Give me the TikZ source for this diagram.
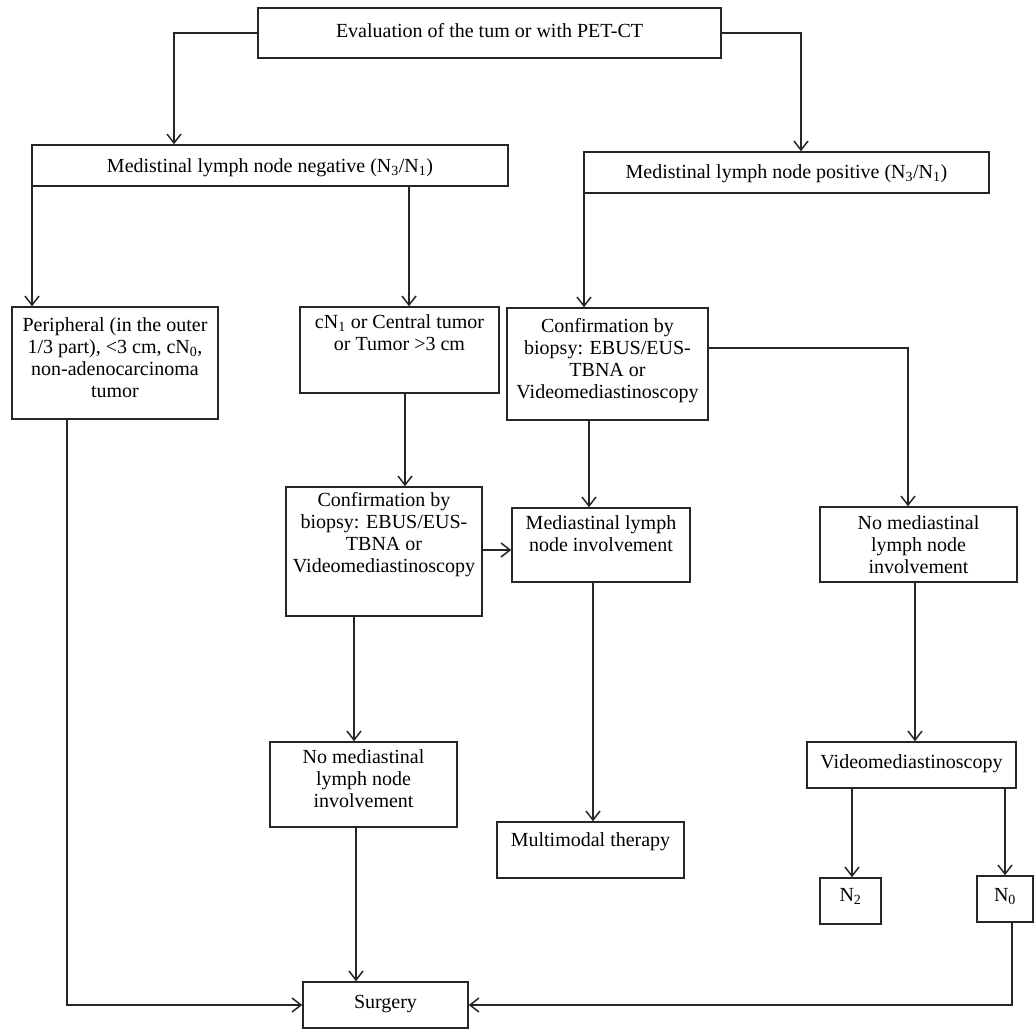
\documentclass[tikz,border=0pt]{standalone}
\usepackage{fontspec}
\setmainfont{Liberation Serif}
\usetikzlibrary{arrows.meta}
% width, height, top gap, lines
\newcommand\boxbody[4]{\parbox[c][#2pt][t]{#1pt}{\centering\vspace*{#3pt}\strut #4}}
\begin{document}
\begin{tikzpicture}[x=1pt,y=-1pt,
  flowbox/.style={draw=black!85, line width=1.5pt, inner sep=0pt, fill=white,
    font=\fontsize{20}{22}\selectfont},
  link/.style={draw=black!85, line width=1.5pt,
    -{Straight Barb[length=9pt,width=14pt,line width=1.5pt]}}]
\fill[white] (0,0) rectangle (1034,1030);

% boxes
\node[flowbox] (eval) at (489.5,33) {\boxbody{463}{50}{14}{Evaluation of the tum or with PET-CT}};
\node[flowbox] (neg) at (270,165.5) {\boxbody{476}{41}{12}{Medistinal lymph node negative (N\textsubscript{3}/N\textsubscript{1})}};
\node[flowbox] (pos) at (786.5,172.5) {\boxbody{405}{41}{11}{Medistinal lymph node positive (N\textsubscript{3}/N\textsubscript{1})}};
\node[flowbox] (peri) at (115,363) {\boxbody{206}{112}{9}{Peripheral (in the outer\\1/3 part), <3 cm, cN\textsubscript{0},\\non-adenocarcinoma\\tumor}};
\node[flowbox] (cn) at (399.5,350) {\boxbody{199}{86}{6}{cN\textsubscript{1} or Central tumor\\or Tumor >3 cm}};
\node[flowbox] (confR) at (607.5,364) {\boxbody{201}{112}{9}{Confirmation by\\biopsy: EBUS/EUS-\\TBNA or\\Videomediastinoscopy}};
\node[flowbox] (confL) at (384,551.5) {\boxbody{196}{129}{4}{Confirmation by\\biopsy: EBUS/EUS-\\TBNA or\\Videomediastinoscopy}};
\node[flowbox] (medinv) at (601,545) {\boxbody{178}{74}{6}{Mediastinal lymph\\node involvement}};
\node[flowbox] (nomedR) at (918.5,544.5) {\boxbody{197}{75}{7}{No mediastinal\\lymph node\\involvement}};
\node[flowbox] (video) at (911.5,765) {\boxbody{209}{46}{11}{Videomediastinoscopy}};
\node[flowbox] (n2) at (850.5,901) {\boxbody{61}{46}{8}{N\textsubscript{2}}};
\node[flowbox] (n0) at (1005,899) {\boxbody{56}{46}{10}{N\textsubscript{0}}};
\node[flowbox] (nomedL) at (363.5,784.5) {\boxbody{187}{85}{6}{No mediastinal\\lymph node\\involvement}};
\node[flowbox] (multi) at (590.5,850) {\boxbody{187}{56}{9}{Multimodal therapy}};
\node[flowbox] (surg) at (385.5,1005) {\boxbody{165}{46}{11}{Surgery}};

% connectors
\draw[link] (eval.west) -| ([xshift=-96pt]neg.north);
\draw[link] (eval.east) -| ([xshift=14.5pt]pos.north);
\coordinate (ngout) at ([xshift=0.75pt]neg.south west);
\draw[link] (ngout) -- (ngout |- peri.north);
\coordinate (cnin) at ([xshift=9.5pt]cn.north);
\draw[link] (cnin |- neg.south) -- (cnin);
\coordinate (psout) at ([xshift=0.75pt]pos.south west);
\draw[link] (psout) -- (psout |- confR.north);
\draw[link] ([xshift=-48pt]peri.south) |- (surg.west);
\coordinate (cnout) at ([xshift=5.5pt]cn.south);
\draw[link] (cnout) -- (cnout |- confL.north);
\draw[link] ([yshift=16pt]confR.east) -| ([xshift=-10.5pt]nomedR.north);
\coordinate (crout) at ([xshift=-18.5pt]confR.south);
\draw[link] (crout) -- (crout |- medinv.north);
\coordinate (clside) at ([yshift=1.5pt]confL.east);
\draw[link] (clside) -- (clside -| medinv.west);
\coordinate (clout) at ([xshift=-30pt]confL.south);
\draw[link] (clout) -- (clout |- nomedL.north);
\coordinate (miout) at ([xshift=-8pt]medinv.south);
\draw[link] (miout) -- (miout |- multi.north);
\coordinate (nlout) at ([xshift=-7.5pt]nomedL.south);
\draw[link] (nlout) -- (nlout |- surg.north);
\coordinate (nrout) at ([xshift=-3.5pt]nomedR.south);
\draw[link] (nrout) -- (nrout |- video.north);
\coordinate (n2in) at ([xshift=1.5pt]n2.north);
\draw[link] (n2in |- video.south) -- (n2in);
\draw[link] (n0.north |- video.south) -- (n0.north);
\draw[link] ([xshift=7pt]n0.south) |- (surg.east);
\end{tikzpicture}
\end{document}
